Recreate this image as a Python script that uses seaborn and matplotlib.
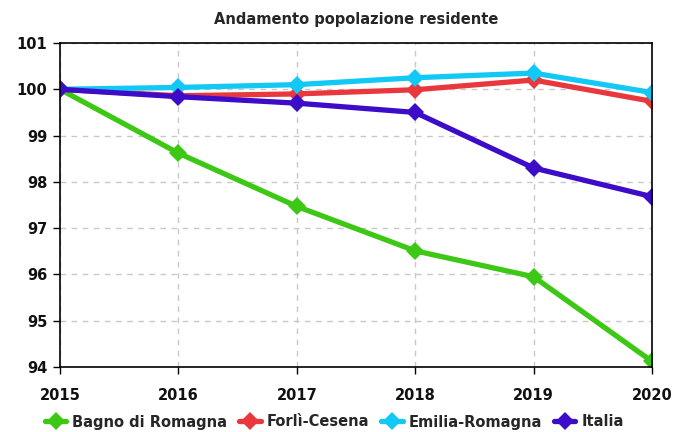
import matplotlib
matplotlib.use("Agg")
import matplotlib.pyplot as plt
import seaborn as sns
import pandas as pd

years = [2015, 2016, 2017, 2018, 2019, 2020]
bagno = [100.0, 98.62, 97.47, 96.51, 95.95, 94.12]
forli = [100.0, 99.86, 99.90, 99.99, 100.20, 99.74]
emilia = [100.0, 100.04, 100.10, 100.25, 100.35, 99.93]
italia = [100.0, 99.84, 99.70, 99.50, 98.30, 97.68]
series_names = ["Bagno di Romagna", "Forlì-Cesena", "Emilia-Romagna", "Italia"]
colors = ["#3cc814", "#e8383d", "#12c8f4", "#3c0cc8"]
yticks = [94, 95, 96, 97, 98, 99, 100, 101]

rows = []
for name, vals in zip(series_names, [bagno, forli, emilia, italia]):
    for y, v in zip(years, vals):
        rows.append({"Anno": y, "Valore": v, "Serie": name})
df = pd.DataFrame(rows)

sns.set_theme(style="white")
plt.rcParams["font.family"] = ["DejaVu Sans"]

fig = plt.figure(figsize=(6.75, 4.32), dpi=100)
ax = fig.add_axes([60/675, 1 - 367/432, (652-60)/675, (367-43)/432])

sns.lineplot(data=df, x="Anno", y="Valore", hue="Serie", palette=colors,
             hue_order=series_names, marker="D", markersize=9, linewidth=3.8,
             markeredgewidth=0, ax=ax, legend=True)

ax.set_xlim(2015, 2020)
ax.set_ylim(94, 101)
ax.set_xticks(years)
ax.set_yticks(yticks)
ax.set_xticklabels([str(y) for y in years], fontweight="bold", fontsize=10.5)
ax.set_yticklabels([str(t) for t in yticks], fontweight="bold", fontsize=10.5)
ax.set_xlabel("")
ax.set_ylabel("")
ax.grid(True, linestyle=(0, (4, 4)), color="#c8c8c8", linewidth=1)
ax.set_axisbelow(True)
for s in ax.spines.values():
    s.set_color("black")
    s.set_linewidth(1.2)
ax.tick_params(axis="both", which="both", direction="out", length=5, width=1,
               color="black", left=True, bottom=True, labelcolor="#111111")
ax.tick_params(axis="x", pad=10)
ax.tick_params(axis="y", pad=4)

ax.set_title("Andamento popolazione residente", fontsize=10.5, fontweight="bold",
             pad=14)

h, l = ax.get_legend_handles_labels()
ax.get_legend().remove()
fig.legend(h, l, loc="center", bbox_to_anchor=(0.495, 1 - 422/432), ncol=4,
           frameon=False, prop={"weight": "bold", "size": 10.5},
           handlelength=1.5, handletextpad=0.4, columnspacing=0.8,
           borderpad=0.1)

fig.savefig("out.png", dpi=100)
